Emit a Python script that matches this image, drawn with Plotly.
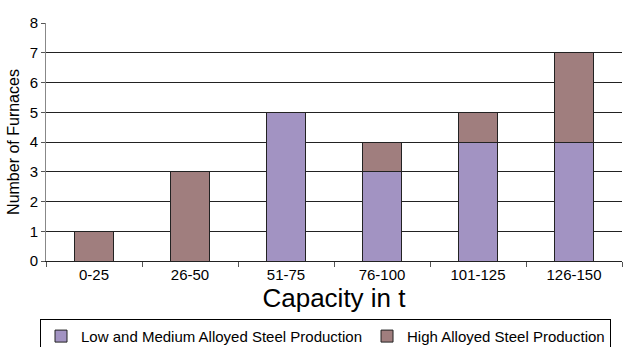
import plotly.graph_objects as go

categories = ["0-25", "26-50", "51-75", "76-100", "101-125", "126-150"]
low_medium = [0, 0, 5, 3, 4, 4]
high = [1, 3, 0, 1, 1, 3]
y_ticks = [0, 1, 2, 3, 4, 5, 6, 7, 8]

FONT = "Liberation Sans, Arial, sans-serif"

fig = go.Figure()
fig.add_trace(go.Bar(
    x=categories, y=low_medium, name="Low and Medium Alloyed Steel Production",
    marker=dict(color="#A293C2", line=dict(color="#222222", width=1)),
))
fig.add_trace(go.Bar(
    x=categories, y=high, name="High Alloyed Steel Production",
    marker=dict(color="#A07E7E", line=dict(color="#222222", width=1)),
))

fig.update_layout(
    barmode="stack",
    bargap=0.6,
    width=623, height=347,
    margin=dict(l=46, r=1, t=23, b=86, autoexpand=False),
    paper_bgcolor="white", plot_bgcolor="white",
    font=dict(family=FONT, color="black"),
    legend=dict(
        orientation="h", x=-0.0104, xanchor="left", y=-0.243, yanchor="top",
        bordercolor="black", borderwidth=1, font=dict(size=15, family=FONT),
        itemwidth=30, tracegroupgap=0, traceorder="normal",
        bgcolor="rgba(0,0,0,0)",
    ),
    xaxis=dict(
        title=dict(text="Capacity in t", font=dict(size=26), standoff=2),
        tickfont=dict(size=15), showline=True, linecolor="#222222",
        ticks="outside", tickson="boundaries", ticklen=5, tickcolor="#555555",
        showgrid=False,
    ),
    yaxis=dict(
        title=dict(text="Number of Furnaces", font=dict(size=16), standoff=6),
        range=[0, 8], tickvals=y_ticks, tickfont=dict(size=15),
        showline=True, linecolor="#888888", ticks="outside", ticklen=4,
        tickcolor="#555555", showgrid=True, gridcolor="#222222", gridwidth=1,
        zeroline=False,
    ),
)

fig.write_html("out.html")
